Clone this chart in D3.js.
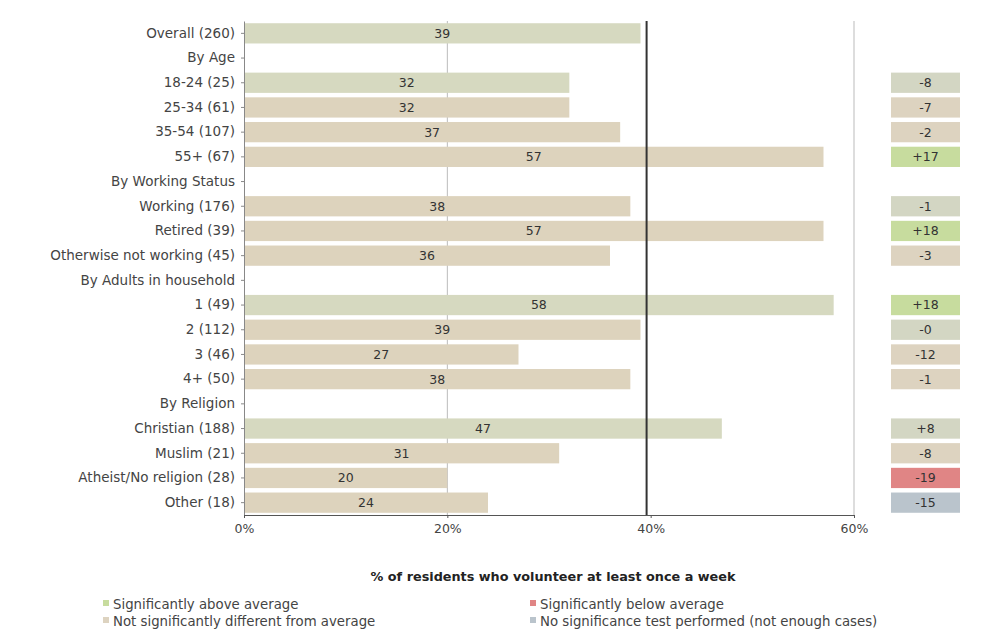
<!DOCTYPE html>
<html><head><meta charset="utf-8">
<script src="https://cdn.jsdelivr.net/npm/d3@7"></script>
<style>body{margin:0;background:#fff;} text{font-family:"DejaVu Sans",sans-serif;}</style>
</head><body>
<svg id="c" width="982" height="637"></svg>
<script>
const categories = ["Overall (260)","By Age","18-24 (25)","25-34 (61)","35-54 (107)","55+ (67)","By Working Status","Working (176)","Retired (39)","Otherwise not working (45)","By Adults in household","1 (49)","2 (112)","3 (46)","4+ (50)","By Religion","Christian (188)","Muslim (21)","Atheist/No religion (28)","Other (18)"];
const values = [39,null,32,32,37,57,null,38,57,36,null,58,39,27,38,null,47,31,20,24];
const barTone = ["g",null,"g","t","t","t",null,"t","t","t",null,"g","t","t","t",null,"g","t","t","t"];
const diffs = [null,null,"-8","-7","-2","+17",null,"-1","+18","-3",null,"+18","-0","-12","-1",null,"+8","-8","-19","-15"];
const significance = [null,null,"ng","n","n","a",null,"ng","a","n",null,"a","ng","n","n",null,"ng","n","b","x"];
const averageLine = 39.6;
const xTicks = [0,20,40,60];
const axisTitle = "% of residents who volunteer at least once a week";
const legendItems = [
  {key:"a", label:"Significantly above average"},
  {key:"b", label:"Significantly below average"},
  {key:"n", label:"Not significantly different from average"},
  {key:"x", label:"No significance test performed (not enough cases)"}
];

const sigColor = {a:"#c7dc9e", b:"#e08585", n:"#ddd3c0", ng:"#d3d6c3", x:"#bac4cc"};
const barColor = {g:"#d6d9c0", t:"#ddd3bd"};

const svg = d3.select("#c");
const x = d3.scaleLinear().domain([0,60]).range([244,854]);
const y = d3.scaleBand().domain(categories).range([21,515]).paddingInner(0.18).paddingOuter(0.09);

// gridlines
svg.append("g").selectAll("line").data([20,60]).join("line")
  .attr("x1",d=>x(d)).attr("x2",d=>x(d)).attr("y1",21).attr("y2",515)
  .attr("stroke","#bbb").attr("stroke-width",1);

// bars
const rows = categories.map((c,i)=>({c, v:values[i], tone:barTone[i], diff:diffs[i], sig:significance[i]}));
svg.append("g").selectAll("rect").data(rows.filter(r=>r.v!=null)).join("rect")
  .attr("x",x(0)).attr("y",d=>y(d.c)).attr("width",d=>x(d.v)-x(0)).attr("height",y.bandwidth())
  .attr("fill",d=>barColor[d.tone]);

// value labels
svg.append("g").selectAll("text").data(rows.filter(r=>r.v!=null)).join("text")
  .attr("x",d=>(x(0)+x(d.v))/2).attr("y",d=>y(d.c)+y.bandwidth()/2).attr("dy","0.35em")
  .attr("text-anchor","middle").attr("font-size",12.5).attr("fill","#333").text(d=>d.v);

// average line
svg.append("line").attr("x1",x(averageLine)).attr("x2",x(averageLine)).attr("y1",21).attr("y2",515)
  .attr("stroke","#333").attr("stroke-width",2);

// y axis
const ya = svg.append("g").attr("transform",`translate(${x(0)},0)`).call(d3.axisLeft(y).tickSize(3).tickSizeOuter(0).tickPadding(6));
ya.select(".domain").attr("stroke","#888");
ya.selectAll(".tick line").attr("stroke","#888");
ya.selectAll("text").attr("font-size",13.5).attr("fill","#444").style("font-family","DejaVu Sans");

// x axis
const xa = svg.append("g").attr("transform","translate(0,515)").call(d3.axisBottom(x).tickValues(xTicks).tickFormat(d=>d+"%").tickSize(3).tickSizeOuter(0).tickPadding(6));
xa.select(".domain").attr("stroke","#555");
xa.selectAll(".tick line").attr("stroke","#555");
xa.selectAll("text").attr("font-size",12.5).attr("fill","#444").style("font-family","DejaVu Sans");

// axis title
svg.append("text").attr("x",553).attr("y",581).attr("text-anchor","middle").attr("font-size",12.8).attr("font-weight","bold").attr("fill","#222").text(axisTitle);

// right-side difference boxes
const bx0 = 891, bw = 69;
const rb = svg.append("g").selectAll("g").data(rows.filter(r=>r.diff!=null)).join("g");
rb.append("rect").attr("x",bx0).attr("y",d=>y(d.c)).attr("width",bw).attr("height",y.bandwidth()).attr("fill",d=>sigColor[d.sig]);
rb.append("text").attr("x",bx0+bw/2).attr("y",d=>y(d.c)+y.bandwidth()/2).attr("dy","0.35em")
  .attr("text-anchor","middle").attr("font-size",12.5).attr("fill","#333").text(d=>d.diff);

// legend
const legPos = [[103,604],[530,604],[103,621],[530,621]];
const lg = svg.append("g").selectAll("g").data(legendItems).join("g")
  .attr("transform",(d,i)=>`translate(${legPos[i][0]},${legPos[i][1]})`);
lg.append("rect").attr("x",0).attr("y",-4).attr("width",6).attr("height",6).attr("fill",d=>sigColor[d.key]);
lg.append("text").attr("x",10).attr("y",0).attr("dy","0.35em").attr("font-size",13.3).attr("fill","#444").text(d=>d.label);
</script>
</body></html>
